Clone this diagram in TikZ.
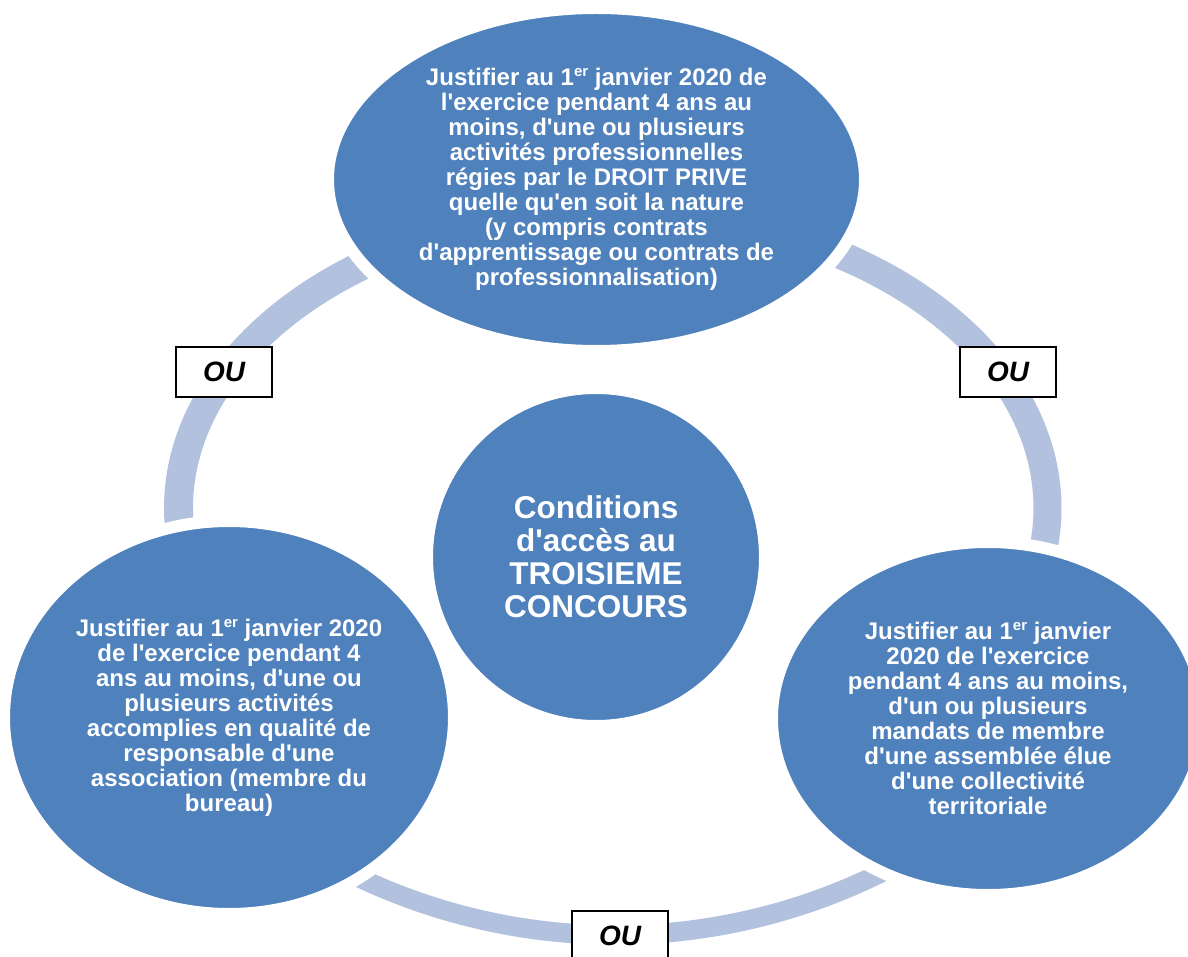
\documentclass[tikz,border=0pt]{standalone}
\usepackage{fontspec}
\newfontfamily\arial{Liberation Sans}
\usetikzlibrary{shapes.geometric}
\definecolor{nodeblue}{HTML}{4F81BD}
\definecolor{ringblue}{HTML}{B2C2DE}
\newcommand\ersup{\raisebox{9pt}{\fontsize{15}{15}\selectfont er}}
\tikzset{
  bubble/.style={ellipse, fill=nodeblue, draw=white, line width=12pt, inner sep=0pt,
    text=white, align=center, font=\arial\bfseries\fontsize{24}{25}\selectfont},
  hub/.style={circle, fill=nodeblue, draw=white, line width=12pt, inner sep=0pt,
    text=white, align=center, font=\arial\bfseries\fontsize{31.5}{33}\selectfont},
  oubox/.style={rectangle, fill=white, draw=black, line width=2.5pt,
    minimum width=96pt, minimum height=50pt, inner sep=0pt,
    font=\arial\bfseries\itshape\fontsize{28}{30}\selectfont},
  ringseg/.style={draw=ringblue, line cap=butt}
}
\begin{document}
\begin{tikzpicture}[x=1pt,y=-1pt]
\useasboundingbox (0,0) rectangle (1188,957);
% ring segments
\draw[ringseg, line width=29pt] plot[domain=168:246, samples=80]
  ({613+434.5*cos(\x)}, {508+297*sin(\x)});
\draw[ringseg, line width=28pt] plot[domain=-70:16, samples=80]
  ({613+434.5*cos(\x)}, {508+297*sin(\x)});
\draw[ringseg, line width=19.5pt] plot[domain=58:122, samples=80]
  ({615+600*cos(\x)}, {335+600*sin(\x)});
% nodes
\node[bubble, minimum width=537pt, minimum height=343pt] (top) at (596.5,179.5)
  {Justifier au 1\ersup{} janvier 2020 de\\
   l'exercice pendant 4 ans au\\
   moins, d'une ou plusieurs\\
   activités professionnelles\\
   régies par le DROIT PRIVE\\
   quelle qu'en soit la nature\\
   (y compris contrats\\
   d'apprentissage ou contrats de\\
   professionnalisation)};
\node[bubble, minimum width=450pt, minimum height=393pt] (left) at (229,717.5)
  {Justifier au 1\ersup{} janvier 2020\\
   de l'exercice pendant 4\\
   ans au moins, d'une ou\\
   plusieurs activités\\
   accomplies en qualité de\\
   responsable d'une\\
   association (membre du\\
   bureau)};
\node[bubble, minimum width=432pt, minimum height=353pt] (right) at (988,718.5)
  {Justifier au 1\ersup{} janvier\\
   2020 de l'exercice\\
   pendant 4 ans au moins,\\
   d'un ou plusieurs\\
   mandats de membre\\
   d'une assemblée élue\\
   d'une collectivité\\
   territoriale};
\node[hub, minimum size=338pt] (hub) at (596,557)
  {Conditions\\ d'accès au\\ TROISIEME\\ CONCOURS};
% OU labels
\node[oubox] (ouL) at (224,372) {OU};
\node[oubox] (ouR) at (1008,372) {OU};
\node[oubox] (ouB) at (620,936) {OU};
\end{tikzpicture}
\end{document}
